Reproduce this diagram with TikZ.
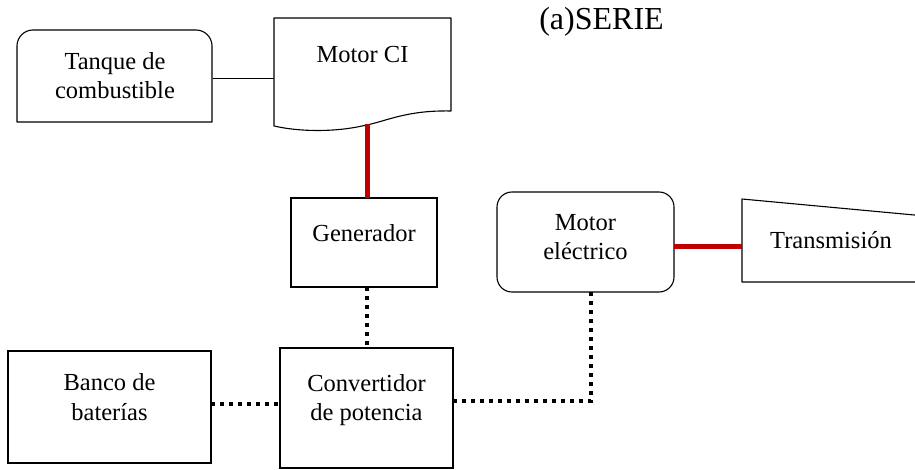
\documentclass[tikz,border=0pt]{standalone}
\usepackage{fontspec}
\setmainfont{Liberation Serif}
\definecolor{linkred}{RGB}{192,0,0}
\begin{document}
\begin{tikzpicture}[x=1pt,y=-1pt,
  cont/.style={inner sep=0pt, outer sep=0pt, font=\fontsize{24.5}{29.5}\selectfont, align=center},
  plainbox/.style={cont, draw, line width=1.1pt},
  roundbox/.style={plainbox, rounded corners=15pt},
  outline/.style={line width=1.1pt, line join=round},
  thinlink/.style={line width=1pt},
  redlink/.style={line width=5pt, draw=linkred},
  dotlink/.style={line width=4pt, dash pattern=on 4pt off 5pt},
  title/.style={inner sep=0pt, font=\fontsize{32}{36}\selectfont}]
\useasboundingbox (0,0) rectangle (915,470);
\fill[white] (0,0) rectangle (915,470);

% title
\node[title] (ttl) at (601.5,22) {(a)SERIE};

% Tanque de combustible (rounded top corners)
\node[cont, minimum width=195pt, minimum height=92pt] (tank) at (115,75.5) {Tanque de\\combustible};
\draw[outline] (17,122) -- (17,46) .. controls (17,37.2) and (24.2,30) .. (33,30)
  -- (196,30) .. controls (204.8,30) and (212,37.2) .. (212,46) -- (212,122) -- cycle;

% Motor CI (document shape)
\node[cont, minimum width=177pt, minimum height=108pt,
  label={[cont,yshift=17pt]center:Motor CI}] (mci) at (362.5,72) {};
\draw[outline] (274,18) -- (451,18) -- (451,111)
  .. controls (405,110) and (385,122) .. (362,126)
  .. controls (335,132) and (300,132) .. (274,126) -- cycle;
\coordinate (mciB) at (367,124);

% Generador
\node[plainbox, minimum width=146pt, minimum height=89pt,
  label={[cont,yshift=9.5pt]center:Generador}] (gen) at (364,242.5) {};

% Motor electrico
\node[roundbox, minimum width=177pt, minimum height=100pt,
  label={[cont,yshift=5pt]center:{Motor\\eléctrico}}] (mel) at (585.5,242) {};

% Transmision
\node[cont, minimum width=178pt, minimum height=83pt] (trans) at (831,240.5) {Transmisión};
\begin{scope}
\clip (0,0) rectangle (915,470);
\draw[outline] (925,282) -- (742,282) -- (742,199) -- (925,216);
\end{scope}

% Banco de baterias
\node[plainbox, minimum width=203pt, minimum height=112pt,
  label={[cont,yshift=10pt]center:{Banco de\\baterías}}] (banco) at (109.5,407) {};

% Convertidor de potencia
\node[plainbox, minimum width=173pt, minimum height=120pt,
  label={[cont,yshift=8pt]center:{Convertidor\\de potencia}}] (conv) at (366.5,408) {};

% connectors
\draw[thinlink] (tank.east |- 0,79) -- (mci.west |- 0,79);
\draw[redlink] (mciB) -- (mciB |- gen.north);
\draw[redlink] ([yshift=-5pt]mel.east) -- ([yshift=-5pt]mel.east -| trans.west);
\draw[dotlink] (conv.north |- gen.south) -- (conv.north);
\draw[dotlink] ([yshift=3pt]banco.east) -- ([yshift=3pt]banco.east -| conv.west);
\draw[dotlink] ([yshift=7pt]conv.east) -| ([xshift=5.5pt]mel.south);
\end{tikzpicture}
\end{document}
